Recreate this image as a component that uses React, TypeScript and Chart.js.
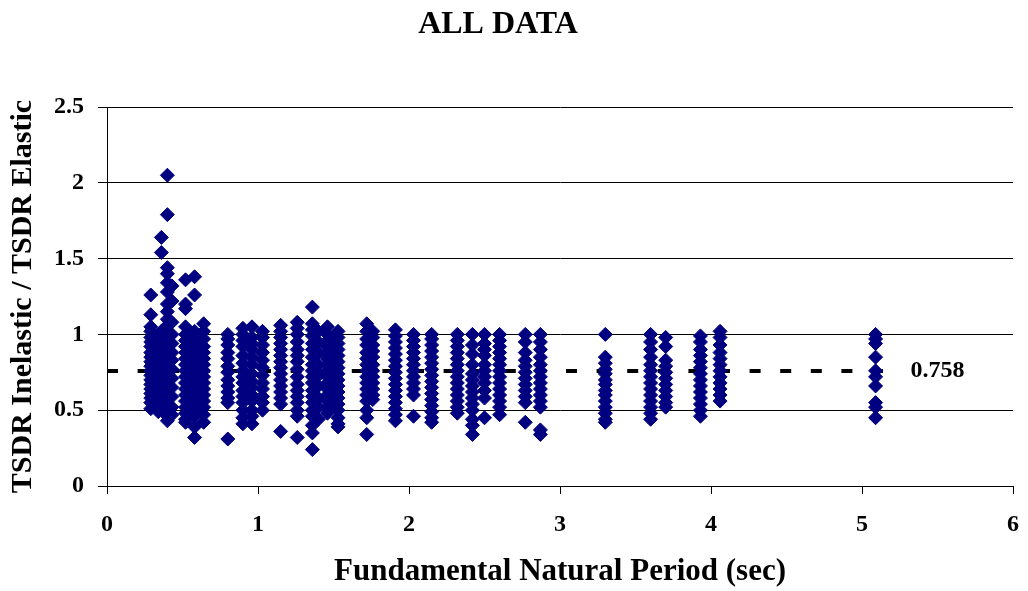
import { useEffect, useRef } from "react";
import { Chart, registerables } from "chart.js";

Chart.register(...registerables);

const chartTitle = "ALL DATA";
const xTitle = "Fundamental Natural Period (sec)";
const yTitle = "TSDR Inelastic / TSDR Elastic";
const meanValue = 0.758;
const meanLineStart = 0;
const meanLineEnd = 5.15;
const meanLabelX = 5.5;

const periods = [
  0.29, 0.34, 0.36, 0.4, 0.43, 0.52, 0.58, 0.64, 0.8, 0.9, 0.96, 1.03, 1.15,
  1.26, 1.36, 1.4, 1.46, 1.53, 1.72, 1.76, 1.91, 2.03, 2.15, 2.32, 2.42, 2.5,
  2.6, 2.77, 2.87, 3.3, 3.6, 3.7, 3.93, 4.06, 5.09,
];

const ratios = [
  [1.26, 1.13, 1.05, 1.02, 0.98, 0.95, 0.92, 0.88, 0.85, 0.82, 0.79, 0.76, 0.73, 0.7, 0.67, 0.64, 0.61, 0.58, 0.55, 0.51],
  [1.0, 0.96, 0.9, 0.86, 0.8, 0.77, 0.72, 0.68, 0.63, 0.6, 0.56, 0.53, 0.49],
  [1.64, 1.54, 1.02, 0.9, 0.8, 0.7, 0.6],
  [2.05, 1.79, 1.44, 1.4, 1.34, 1.28, 1.2, 1.15, 1.1, 1.06, 1.02, 0.99, 0.96, 0.93, 0.9, 0.87, 0.84, 0.81, 0.78, 0.75, 0.72, 0.69, 0.66, 0.63, 0.6, 0.57, 0.54, 0.5, 0.46, 0.43],
  [1.32, 1.22, 1.08, 1.0, 0.94, 0.88, 0.83, 0.77, 0.71, 0.65, 0.59, 0.52, 0.47],
  [1.36, 1.2, 1.17, 1.05, 1.0, 0.96, 0.92, 0.88, 0.84, 0.8, 0.76, 0.72, 0.68, 0.64, 0.6, 0.56, 0.52, 0.48, 0.44, 0.42],
  [1.38, 1.26, 1.02, 0.98, 0.94, 0.9, 0.86, 0.82, 0.78, 0.74, 0.7, 0.66, 0.62, 0.58, 0.54, 0.5, 0.46, 0.39, 0.32],
  [1.07, 1.02, 0.97, 0.92, 0.88, 0.84, 0.8, 0.76, 0.72, 0.68, 0.64, 0.6, 0.56, 0.52, 0.47, 0.42],
  [1.0, 0.97, 0.93, 0.88, 0.84, 0.79, 0.75, 0.7, 0.66, 0.62, 0.58, 0.55, 0.31],
  [1.04, 1.0, 0.96, 0.92, 0.86, 0.81, 0.76, 0.72, 0.68, 0.63, 0.59, 0.55, 0.5, 0.45, 0.41],
  [1.05, 0.98, 0.94, 0.9, 0.85, 0.8, 0.74, 0.69, 0.65, 0.6, 0.56, 0.5, 0.46, 0.41],
  [1.02, 0.98, 0.93, 0.88, 0.83, 0.78, 0.73, 0.68, 0.64, 0.59, 0.55, 0.5],
  [1.06, 1.02, 0.98, 0.94, 0.9, 0.86, 0.82, 0.78, 0.74, 0.7, 0.66, 0.62, 0.58, 0.54, 0.36],
  [1.08, 1.04, 1.0, 0.95, 0.9, 0.86, 0.82, 0.77, 0.72, 0.67, 0.63, 0.59, 0.55, 0.5, 0.46, 0.32],
  [1.18, 1.07, 1.03, 0.99, 0.94, 0.9, 0.85, 0.8, 0.76, 0.72, 0.68, 0.63, 0.59, 0.55, 0.5, 0.46, 0.4, 0.35, 0.24],
  [1.02, 0.95, 0.88, 0.8, 0.73, 0.66, 0.58, 0.52, 0.44],
  [1.05, 1.0, 0.96, 0.92, 0.88, 0.84, 0.8, 0.76, 0.72, 0.68, 0.64, 0.6, 0.56, 0.52, 0.48],
  [1.02, 0.98, 0.94, 0.9, 0.86, 0.82, 0.78, 0.74, 0.7, 0.66, 0.62, 0.58, 0.54, 0.5, 0.45, 0.41, 0.39],
  [1.07, 1.02, 0.97, 0.93, 0.88, 0.84, 0.8, 0.76, 0.72, 0.68, 0.64, 0.6, 0.56, 0.5, 0.45, 0.34],
  [1.02, 0.98, 0.93, 0.89, 0.85, 0.8, 0.76, 0.72, 0.68, 0.64, 0.6, 0.57],
  [1.03, 0.99, 0.95, 0.91, 0.87, 0.83, 0.79, 0.75, 0.71, 0.67, 0.63, 0.59, 0.55, 0.51, 0.47, 0.43],
  [1.0, 0.96, 0.92, 0.88, 0.84, 0.8, 0.76, 0.72, 0.68, 0.64, 0.6, 0.46],
  [1.0, 0.97, 0.93, 0.89, 0.85, 0.81, 0.77, 0.73, 0.69, 0.65, 0.61, 0.57, 0.53, 0.49, 0.45, 0.42],
  [1.0, 0.96, 0.92, 0.88, 0.84, 0.8, 0.76, 0.72, 0.68, 0.64, 0.6, 0.56, 0.52, 0.48],
  [1.0, 0.93, 0.87, 0.8, 0.74, 0.7, 0.66, 0.62, 0.58, 0.54, 0.5, 0.44, 0.4, 0.34],
  [1.0, 0.94, 0.9, 0.86, 0.8, 0.76, 0.72, 0.68, 0.63, 0.58, 0.45],
  [1.0, 0.96, 0.92, 0.88, 0.84, 0.8, 0.76, 0.72, 0.68, 0.64, 0.6, 0.56, 0.52, 0.47],
  [1.0, 0.95, 0.88, 0.83, 0.79, 0.75, 0.71, 0.67, 0.63, 0.59, 0.55, 0.42],
  [1.0, 0.95, 0.9, 0.85, 0.8, 0.76, 0.72, 0.68, 0.64, 0.6, 0.56, 0.52, 0.37, 0.34],
  [1.0, 0.85, 0.81, 0.77, 0.74, 0.7, 0.67, 0.63, 0.6, 0.56, 0.52, 0.48, 0.44, 0.42],
  [1.0, 0.95, 0.9, 0.85, 0.8, 0.76, 0.72, 0.68, 0.64, 0.6, 0.56, 0.52, 0.48, 0.44],
  [0.98, 0.92, 0.83, 0.79, 0.75, 0.71, 0.67, 0.63, 0.59, 0.55, 0.52],
  [0.99, 0.95, 0.9, 0.86, 0.82, 0.78, 0.74, 0.7, 0.66, 0.62, 0.58, 0.54, 0.5, 0.46],
  [1.02, 0.98, 0.93, 0.88, 0.84, 0.8, 0.76, 0.72, 0.68, 0.64, 0.6, 0.56],
  [1.0, 0.97, 0.94, 0.85, 0.76, 0.72, 0.66, 0.55, 0.52, 0.45],
];

const xTicksMin = 0;
const xTicksMax = 6;
const yTicksMin = 0;
const yTicksMax = 2.5;

const FONT = "'Liberation Serif', 'Times New Roman', serif";

export default function App() {
  const ref = useRef<HTMLCanvasElement>(null);

  useEffect(() => {
    if (!ref.current) return;
    const points: { x: number; y: number }[] = [];
    periods.forEach((p, i) => {
      ratios[i].forEach((r) => points.push({ x: p, y: r }));
    });

    const textPlugin = {
      id: "extraText",
      afterDraw(chart: any) {
        const ctx = chart.ctx;
        ctx.save();
        ctx.fillStyle = "#000";
        ctx.textBaseline = "alphabetic";
        ctx.textAlign = "center";
        ctx.font = `bold 32px ${FONT}`;
        ctx.fillText(chartTitle, 498, 33);
        const xs = chart.scales.x;
        const ys = chart.scales.y;
        ctx.font = `bold 24px ${FONT}`;
        ctx.textBaseline = "middle";
        ctx.fillText(
          String(meanValue),
          xs.getPixelForValue(meanLabelX),
          ys.getPixelForValue(meanValue)
        );
        ctx.restore();
      },
    };

    const chart = new Chart(ref.current, {
      type: "scatter",
      data: {
        datasets: [
          {
            label: "data",
            data: points,
            pointStyle: "rectRot",
            pointRadius: 7,
            pointBorderWidth: 1,
            backgroundColor: "#000080",
            borderColor: "#000080",
            order: 0,
          },
          {
            label: "mean",
            data: [
              { x: meanLineStart, y: meanValue },
              { x: meanLineEnd, y: meanValue },
            ],
            showLine: true,
            pointRadius: 0,
            borderColor: "#000",
            borderWidth: 4,
            borderDash: [11, 19.6],
            order: 1,
          } as any,
        ],
      },
      options: {
        animation: false,
        responsive: false,
        layout: { padding: { top: 107, right: 15, left: 0, bottom: 0 } },
        plugins: {
          legend: { display: false },
          tooltip: { enabled: false },
          title: { display: false },
        },
        scales: {
          x: {
            type: "linear",
            min: xTicksMin,
            max: xTicksMax,
            afterFit: (s: any) => {
              s.height = 105;
              s.paddingLeft = 0;
              s.paddingRight = 0;
            },
            ticks: {
              stepSize: 1,
              color: "#000",
              font: { family: FONT, size: 24, weight: "bold" },
              padding: 16,
            },
            grid: {
              drawOnChartArea: false,
              drawTicks: true,
              tickLength: 8,
              color: "#000",
            },
            border: { display: true, color: "#000", width: 1 },
            title: {
              display: true,
              text: xTitle,
              color: "#000",
              font: { family: FONT, size: 31, weight: "bold" },
              padding: { top: 0, bottom: 0 },
            },
          },
          y: {
            type: "linear",
            min: yTicksMin,
            max: yTicksMax,
            afterFit: (s: any) => {
              s.width = 107;
              s.paddingTop = 0;
              s.paddingBottom = 0;
            },
            ticks: {
              stepSize: 0.5,
              color: "#000",
              font: { family: FONT, size: 24, weight: "bold" },
              padding: 14,
              callback: (v: any) => String(Number(v)),
            },
            grid: {
              drawTicks: true,
              tickLength: 9,
              color: "#000",
              lineWidth: 1,
            },
            border: { display: true, color: "#000", width: 1 },
            title: {
              display: true,
              text: yTitle,
              color: "#000",
              font: { family: FONT, size: 30, weight: "bold" },
              padding: { top: 5, bottom: 0 },
            },
          },
        },
      },
      plugins: [textPlugin],
    });
    return () => chart.destroy();
  }, []);

  return (
    <canvas
      ref={ref}
      width={1028}
      height={591}
      style={{ position: "absolute", left: 0, top: 0, display: "block", background: "#fff" }}
    />
  );
}
